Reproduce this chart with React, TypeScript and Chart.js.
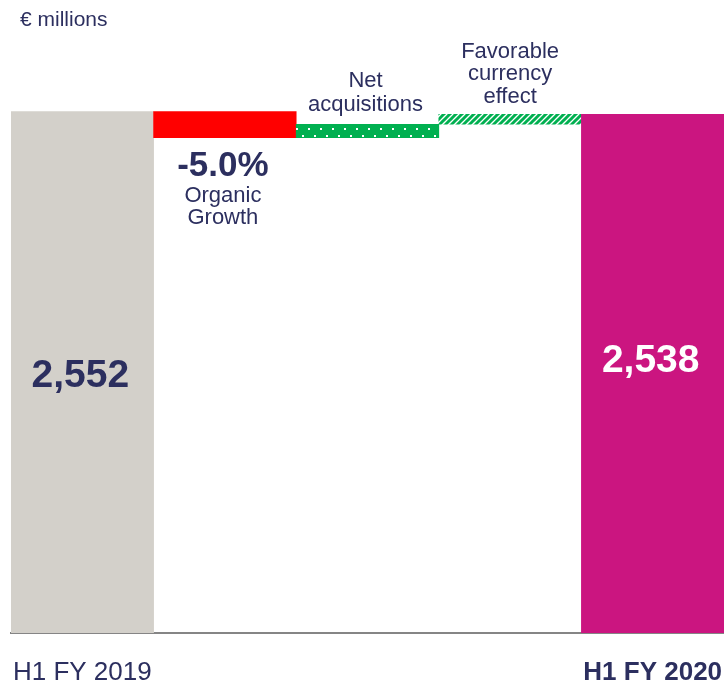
import React, { useEffect, useRef } from 'react';
import { Chart, registerables } from 'chart.js';

Chart.register(...registerables);

// ---- data ----
const categories = ['H1 FY 2019', 'Organic Growth', 'Net acquisitions', 'Favorable currency effect', 'H1 FY 2020'];
const shownTickLabels = ['H1 FY 2019', '', '', '', 'H1 FY 2020'];
const startValue = 2552;
const changes = [-128, 66, 48]; // organic, net acquisitions, currency
const endValue = 2538;
const valueLabels = ['2,552', '2,538'];
const organicPctLabel = '-5.0%';
const organicLines = ['Organic', 'Growth'];
const acquisitionLines = ['Net', 'acquisitions'];
const currencyLines = ['Favorable', 'currency', 'effect'];
const unitLabel = '€ millions';

const FONT = 'Arial, "Liberation Sans", sans-serif';
const NAVY = '#2c2f5f';
const GREY = '#d3d0ca';
const RED = '#ff0000';
const GREEN = '#00b050';
const MAGENTA = '#cb1580';

function buildRanges(): number[][] {
  const r: number[][] = [[0, startValue]];
  let cur = startValue;
  for (const c of changes) {
    const next = cur + c;
    r.push([Math.min(cur, next), Math.max(cur, next)]);
    cur = next;
  }
  r.push([0, endValue]);
  return r;
}
const ranges = buildRanges();

function dotPattern(): CanvasPattern | string {
  const w = 12;
  const h = 13;
  const c = document.createElement('canvas');
  c.width = w;
  c.height = h;
  const g = c.getContext('2d');
  if (!g) return GREEN;
  g.fillStyle = GREEN;
  g.fillRect(0, 0, w, h);
  g.fillStyle = '#ffffff';
  g.fillRect(2, 5, 2, 2);
  g.fillRect(8, 11, 2, 2);
  return g.createPattern(c, 'repeat') || GREEN;
}

function hatchPattern(): CanvasPattern | string {
  const s = 6;
  const c = document.createElement('canvas');
  c.width = s;
  c.height = s;
  const g = c.getContext('2d');
  if (!g) return GREEN;
  g.fillStyle = '#ffffff';
  g.fillRect(0, 0, s, s);
  g.strokeStyle = GREEN;
  g.lineWidth = 3;
  g.lineCap = 'square';
  for (let k = -1; k <= 1; k++) {
    g.beginPath();
    g.moveTo(k * s, s);
    g.lineTo(k * s + s, 0);
    g.stroke();
  }
  return g.createPattern(c, 'repeat') || GREEN;
}

const annotationPlugin = {
  id: 'waterfallAnnotations',
  afterDatasetsDraw(chart: any) {
    const ctx = chart.ctx as CanvasRenderingContext2D;
    const meta = chart.getDatasetMeta(0);
    const yS = chart.scales.y;
    const px = (i: number) => meta.data[i].x;
    const py = (v: number) => yS.getPixelForValue(v);
    ctx.save();
    ctx.textAlign = 'center';
    ctx.textBaseline = 'alphabetic';

    // first total
    ctx.font = `bold 39px ${FONT}`;
    ctx.fillStyle = NAVY;
    const greyMid = (py(ranges[0][1]) + py(0)) / 2;
    ctx.fillText(valueLabels[0], px(0) - 2, greyMid + 14.5);

    // last total
    ctx.fillStyle = '#ffffff';
    const magMid = (py(ranges[4][1]) + py(0)) / 2;
    ctx.fillText(valueLabels[1], px(4) - 2, magMid - 2);

    // organic
    const orgBottom = py(ranges[1][0]);
    ctx.fillStyle = NAVY;
    ctx.font = `bold 35px ${FONT}`;
    ctx.fillText(organicPctLabel, px(1) - 2, orgBottom + 38.5);
    ctx.font = `22px ${FONT}`;
    ctx.fillText(organicLines[0], px(1) - 2, orgBottom + 64.5);
    ctx.fillText(organicLines[1], px(1) - 2, orgBottom + 86.5);

    // net acquisitions
    const acqTop = py(ranges[2][1]);
    ctx.fillText(acquisitionLines[0], px(2) - 2, acqTop - 37);
    ctx.fillText(acquisitionLines[1], px(2) - 2, acqTop - 13.5);

    // currency
    const curTop = py(ranges[3][1]);
    ctx.fillText(currencyLines[0], px(3), curTop - 56.5);
    ctx.fillText(currencyLines[1], px(3), curTop - 34);
    ctx.fillText(currencyLines[2], px(3), curTop - 11.5);

    // unit
    ctx.textAlign = 'left';
    ctx.font = `21px ${FONT}`;
    ctx.fillText(unitLabel, chart.chartArea.left + 9, 26);
    ctx.restore();
  },
};

export default function App() {
  const ref = useRef<HTMLCanvasElement | null>(null);

  useEffect(() => {
    if (!ref.current) return;
    const colors = [GREY, RED, dotPattern(), hatchPattern(), MAGENTA];
    const chart = new Chart(ref.current, {
      type: 'bar',
      data: {
        labels: categories,
        datasets: [
          {
            data: ranges as any,
            backgroundColor: colors as any,
            borderColor: 'rgba(0,0,0,0)',
            borderWidth: 0,
            barPercentage: 1,
            categoryPercentage: 1,
          },
        ],
      },
      options: {
        responsive: false,
        animation: false,
        devicePixelRatio: 1,
        layout: { padding: { left: 11, right: 0, top: 20, bottom: 0 } },
        plugins: { legend: { display: false }, tooltip: { enabled: false }, title: { display: false } },
        scales: {
          x: {
            grid: { display: false, drawTicks: false },
            border: { display: true, color: '#858585', width: 2 },
            afterFit: (scale: any) => {
              scale.height = 51;
              scale.paddingLeft = 0;
              scale.paddingRight = 0;
            },
            ticks: {
              padding: 27,
              color: NAVY,
              maxRotation: 0,
              autoSkip: false,
              callback: (_v: any, i: number) => shownTickLabels[i],
              font: (c: any) => ({
                family: FONT,
                size: 26,
                lineHeight: 1,
                weight: c.index === 4 ? 'bold' : 'normal',
              }),
            },
          },
          y: { display: false, min: 0, max: 3000 },
        },
      },
      plugins: [annotationPlugin],
    });
    return () => chart.destroy();
  }, []);

  return (
    <div style={{ position: 'absolute', left: 0, top: 0, width: 724, height: 684, background: '#fff' }}>
      <canvas ref={ref} width={724} height={684} style={{ display: 'block' }} />
    </div>
  );
}
